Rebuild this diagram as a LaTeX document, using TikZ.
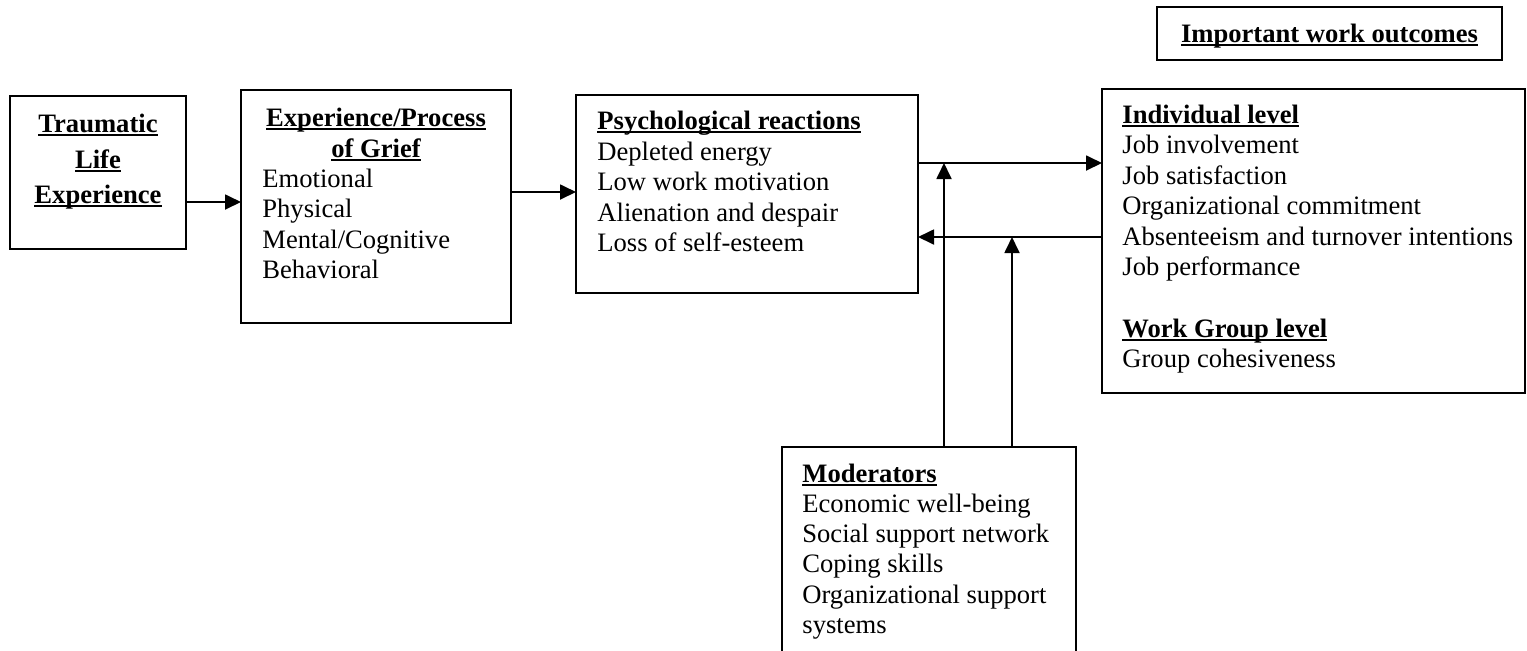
\documentclass[tikz,border=0pt]{standalone}
\usepackage{fontspec}
\setmainfont{Liberation Serif}
\usetikzlibrary{arrows.meta}
\newsavebox\hulbox
\newcommand\hul[1]{\sbox\hulbox{#1}\rlap{\rule[-1.9pt]{\wd\hulbox}{0.9pt}}\usebox\hulbox}
\begin{document}
\begin{tikzpicture}[x=0.5pt,y=-0.5pt,
  box/.style={draw, line width=0.9pt, inner sep=0pt, outer sep=0pt, anchor=north west},
  txt/.style={anchor=base west, inner sep=0pt, font=\fontsize{13.3}{15}\selectfont},
  hd/.style={txt, font=\fontsize{13.3}{15}\selectfont\bfseries},
  hdc/.style={hd, anchor=base},
  arr/.style={line width=0.9pt, -{Triangle[length=8pt,width=7.5pt]}}]
\clip (0,0) rectangle (1527,650);
\fill[white] (0,0) rectangle (1527,650);

% boxes
\node[box, minimum width=88pt,   minimum height=76.5pt] (tle) at (10,96) {};
\node[box, minimum width=135pt,  minimum height=116.5pt] (exp) at (241,90) {};
\node[box, minimum width=171pt,  minimum height=99pt]   (psy) at (576,95) {};
\node[box, minimum width=211.5pt,minimum height=152pt]  (out) at (1102,89) {};
\node[box, minimum width=172.5pt,minimum height=26.5pt] (iwo) at (1157,7) {};
\node[box, minimum width=147pt,  minimum height=110pt]  (mod) at (782,447) {};

% texts
\node[hdc] (iwot) at (1329.5,42) {\hul{Important work outcomes}};

\node[hdc] (tle1) at (98,132) {\hul{Traumatic}};
\node[hdc] (tle2) at (98,168) {\hul{Life}};
\node[hdc] (tle3) at (98,203) {\hul{Experience}};

\node[hdc] (exph1) at (376,126) {\hul{Experience/Process}};
\node[hdc] (exph2) at (376,157) {\hul{of Grief}};
\foreach \t [count=\i] in {Emotional, Physical, Mental/Cognitive, Behavioral}
  \node[txt] (expi\i) at (262,{187+(\i-1)*30.5}) {\t};

\node[hd] (psyh) at (597,129) {\hul{Psychological reactions}};
\foreach \t [count=\i] in {Depleted energy, Low work motivation, Alienation and despair, Loss of self-esteem}
  \node[txt] (psyi\i) at (597,{160+(\i-1)*30.5}) {\t};

\node[hd] (outh) at (1122,123) {\hul{Individual level}};
\foreach \t [count=\i] in {Job involvement, Job satisfaction, Organizational commitment, Absenteeism and turnover intentions, Job performance}
  \node[txt] (outi\i) at (1122,{153.5+(\i-1)*30.5}) {\t};
\node[hd] (outg) at (1122,337) {\hul{Work Group level}};
\node[txt] (outg1) at (1122,367.5) {Group cohesiveness};

\node[hd] (modh) at (802,482) {\hul{Moderators}};
\foreach \t [count=\i] in {Economic well-being, Social support network, Coping skills, Organizational support, systems}
  \node[txt] (modi\i) at (802,{512.3+(\i-1)*30.3}) {\t};

% connectors
\coordinate (y1) at (0,202);
\coordinate (y2) at (0,192);
\coordinate (y3) at (0,163);
\coordinate (y4) at (0,237);
\coordinate (v1) at (944,163);
\coordinate (v2) at (1012,237);
\draw[arr] (tle.east |- y1) -- (exp.west |- y1);
\draw[arr] (exp.east |- y2) -- (psy.west |- y2);
\draw[arr] (psy.east |- y3) -- (out.west |- y3);
\draw[arr] (out.west |- y4) -- (psy.east |- y4);
\draw[arr] (mod.north -| v1) -- (v1);
\draw[arr] (mod.north -| v2) -- (v2);
\end{tikzpicture}
\end{document}
